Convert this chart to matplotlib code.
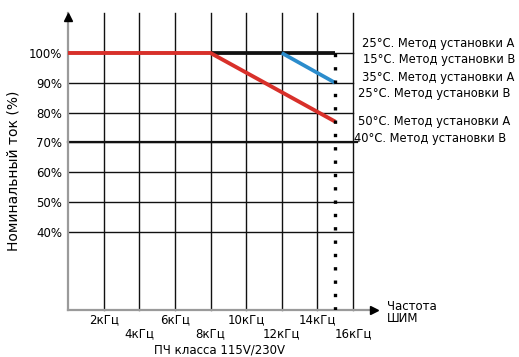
import matplotlib
matplotlib.use("Agg")
import matplotlib.pyplot as plt

# data
freq_ticks = [2, 4, 6, 8, 10, 12, 14, 16]
freq_labels = ["2кГц", "4кГц", "6кГц", "8кГц", "10кГц", "12кГц", "14кГц", "16кГц"]
pct_ticks = [40, 50, 60, 70, 80, 90, 100]
pct_labels = ["40%", "50%", "60%", "70%", "80%", "90%", "100%"]

black_x = [8, 15]
black_y = [100, 100]
blue_x = [12, 15]
blue_y = [100, 90]
red_x = [0, 8, 15]
red_y = [100, 100, 77]
limit_freq = 15

legend_lines = [
    "25°C. Метод установки A",
    "15°C. Метод установки B",
    "35°C. Метод установки A",
    "25°C. Метод установки B",
    "50°C. Метод установки A",
    "40°C. Метод установки B",
]

plt.rcParams["font.family"] = ["DejaVu Sans"]

W, H = 519, 357
fig = plt.figure(figsize=(W / 100, H / 100), dpi=100)


def fx(x):
    return x / W


def fy(y):
    return 1 - y / H


ax = fig.add_axes([fx(68), fy(310), fx(353) - fx(68), fy(13) - fy(310)])
ax.set_xlim(0, 16)
ax.set_ylim(13.85, 113.4)
for s in ax.spines.values():
    s.set_visible(False)

ax.set_xticks(freq_ticks)
ax.set_xticklabels(freq_labels, fontsize=8.5)
ax.set_yticks(pct_ticks)
ax.set_yticklabels(pct_labels, fontsize=8.5)
ax.tick_params(length=0)
ax.tick_params(axis="y", pad=4)
for i, t in enumerate(ax.xaxis.get_major_ticks()):
    t.set_pad(2.5 if i % 2 == 0 else 12.5)
ax.grid(True, color="#111111", lw=1.0)
for gl in ax.get_xgridlines() + ax.get_ygridlines():
    gl.set_clip_on(False)
ax.set_axisbelow(True)

# thick 70% line
ax.plot([0, 16.2], [70, 70], color="#111111", lw=1.6, clip_on=False, zorder=2)

# axes arrows
y0, y1 = ax.get_ylim()
ax.plot([0, 0], [y0, y1], color="#9a9a9a", lw=1.6, clip_on=False, zorder=3)
ax.plot([0], [y1 - 1.2], marker="^", color="black", ms=6, clip_on=False, zorder=4)
ax.plot([0, 17.2], [y0, y0], color="#9a9a9a", lw=1.6, clip_on=False, zorder=3)
ax.plot([17.2], [y0], marker=">", color="black", ms=6, clip_on=False, zorder=4)

# curves
ax.plot(black_x, black_y, color="#111111", lw=2.7, solid_capstyle="butt", zorder=5)
ax.plot(blue_x, blue_y, color="#2b8ccc", lw=2.7, solid_capstyle="butt", zorder=5)
ax.plot(red_x, red_y, color="#d8302a", lw=2.8, solid_capstyle="butt", zorder=6)
ax.plot([limit_freq, limit_freq], [y0, 100], color="black", lw=2.4,
        linestyle=(0, (1, 3)), zorder=7)

fig.text(fx(387), fy(306), "Частота", fontsize=8.5, va="center", ha="left")
fig.text(fx(387), fy(319), "ШИМ", fontsize=8.5, va="center", ha="left")
fig.text(fx(220), fy(350), "ПЧ класса 115V/230V", fontsize=8.5, va="center", ha="center")
fig.text(fx(14), fy(171), "Номинальный ток (%)", fontsize=10, rotation=90,
         va="center", ha="center")

leg_y = [43, 60, 77, 94, 122, 139]
leg_x = [362, 363, 362, 358, 358, 354]
for txt, x, y in zip(legend_lines, leg_x, leg_y):
    fig.text(fx(x), fy(y), txt, fontsize=8.3, va="center", ha="left")

fig.savefig("out.png", dpi=100)
